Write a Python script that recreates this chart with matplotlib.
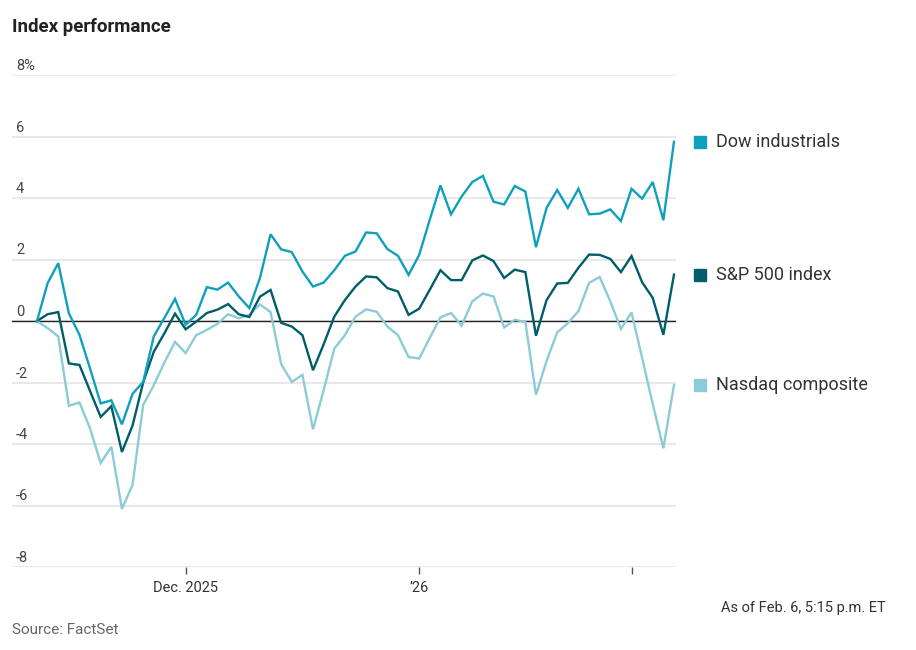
import numpy as np
import pandas as pd
import matplotlib
matplotlib.use("Agg")
import matplotlib.pyplot as plt
from matplotlib.transforms import blended_transform_factory, offset_copy

plt.rcParams['font.family'] = ['Roboto', 'DejaVu Sans']

# trading days, Nov 10 2025 .. Feb 6 2026
holidays = ["2025-11-27", "2025-12-25", "2026-01-01", "2026-01-19"]
dates = pd.bdate_range("2025-11-10", "2026-02-06", freq="C", holidays=holidays)

# % change since start
dow = [0, 1.23, 1.88, 0.25, -0.45, -1.55, -2.68, -2.58, -3.36, -2.37,
       -1.98, -0.5, 0.1, 0.72, -0.12, 0.2, 1.1, 1.02, 1.25, 0.8,
       0.42, 1.4, 2.82, 2.33, 2.24, 1.61, 1.12, 1.25, 1.65, 2.12,
       2.26, 2.88, 2.85, 2.34, 2.12, 1.5, 2.15, 3.3, 4.41, 3.47,
       4.05, 4.52, 4.72, 3.88, 3.79, 4.39, 4.21, 2.4, 3.68, 4.26,
       3.68, 4.3, 3.47, 3.49, 3.63, 3.25, 4.3, 3.98, 4.52, 3.28, 5.83]
sp500 = [0, 0.22, 0.29, -1.38, -1.43, -2.28, -3.12, -2.77, -4.26, -3.4,
         -2.0, -1.0, -0.4, 0.24, -0.27, -0.02, 0.26, 0.37, 0.55, 0.22,
         0.13, 0.79, 1.01, -0.06, -0.18, -0.46, -1.6, -0.76, 0.14, 0.68,
         1.12, 1.45, 1.42, 1.07, 0.96, 0.2, 0.4, 1.02, 1.65, 1.33,
         1.33, 1.97, 2.13, 1.95, 1.4, 1.67, 1.59, -0.48, 0.68, 1.22,
         1.24, 1.73, 2.16, 2.15, 2.02, 1.59, 2.11, 1.26, 0.75, -0.45, 1.51]
nasdaq = [0, -0.23, -0.5, -2.76, -2.65, -3.5, -4.62, -4.09, -6.11, -5.33,
          -2.73, -2.09, -1.35, -0.68, -1.04, -0.46, -0.29, -0.09, 0.22, 0.09,
          0.2, 0.54, 0.29, -1.4, -1.98, -1.75, -3.52, -2.25, -0.9, -0.46,
          0.14, 0.38, 0.3, -0.18, -0.46, -1.17, -1.22, -0.55, 0.12, 0.26,
          -0.15, 0.64, 0.89, 0.8, -0.21, 0.04, -0.03, -2.4, -1.3, -0.37,
          -0.07, 0.32, 1.24, 1.43, 0.64, -0.26, 0.28, -1.2, -2.7, -4.14, -2.08]

names = ["Dow industrials", "S&P 500 index", "Nasdaq composite"]
colors = ["#0fa0bb", "#005e69", "#8ccbd8"]
yticks = [8, 6, 4, 2, 0, -2, -4, -6, -8]

fig = plt.figure(figsize=(9.16, 6.5), dpi=100)
ax = fig.add_axes([12 / 916, 1 - 567 / 650, 664 / 916, 492 / 650])

x = np.arange(len(dates))
for g in yticks:
    ax.axhline(g, color="#e4e4e4", lw=1.2, zorder=0)
ax.axhline(0, color="#222222", lw=1.0, zorder=1)

for vals, c in zip([nasdaq, sp500, dow], [colors[2], colors[1], colors[0]]):
    ax.plot(x, vals, color=c, lw=1.7, solid_joinstyle="miter", zorder=3)

ax.set_xlim(-2.355, 60.19)
ax.set_ylim(-8, 8)
for s in ax.spines.values():
    s.set_visible(False)
ax.set_yticks([])

# month ticks at first trading day of each month
month_start = [i for i in range(1, len(dates)) if dates[i].month != dates[i - 1].month]
ax.set_xticks(month_start)
ax.set_xticklabels(["Dec. 2025", "\u201926", ""], fontsize=10.5, color="#333333")
ax.tick_params(axis="x", length=5, width=1, color="#555555", pad=5)

# y labels above gridlines
tr = offset_copy(blended_transform_factory(ax.transAxes, ax.transData), fig=fig, y=2, units="dots")
for g in yticks:
    lab = "8%" if g == 8 else str(g)
    ax.text(0.006, g, lab, transform=tr, ha="left", va="bottom", fontsize=10.5, color="#444444")

# labels at the end of each line
lt = blended_transform_factory(fig.transFigure, ax.transData)
for vals, c, n in zip([dow, sp500, nasdaq], colors, names):
    ax.plot([700 / 916], [vals[-1]], marker="s", markersize=9, color=c,
            transform=lt, clip_on=False)
    ax.text(716 / 916, vals[-1], n, transform=lt, ha="left", va="center",
            fontsize=13, color="#333333")

fig.text(12 / 916, 1 - 27 / 650, "Index performance", fontsize=13.5, fontweight="bold",
         color="#222222", va="center", ha="left")
fig.text(886 / 916, 1 - 608 / 650, "As of Feb. 6, 5:15 p.m. ET", fontsize=10.5,
         color="#333333", ha="right", va="center")
fig.text(12 / 916, 1 - 630 / 650, "Source: FactSet", fontsize=11, color="#666666",
         ha="left", va="center")

fig.savefig("out.png", dpi=100)
